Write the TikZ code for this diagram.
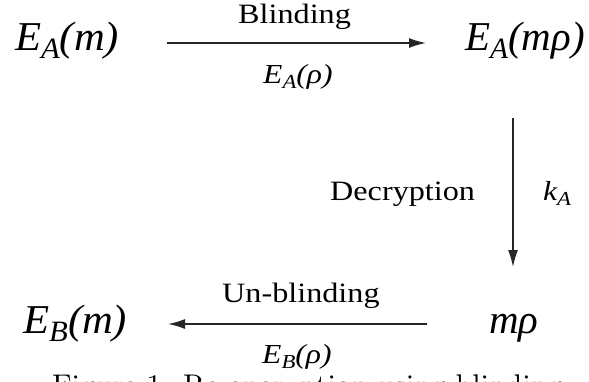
\documentclass[tikz,border=0pt]{standalone}
\usepackage{fontspec}
\newfontfamily\tms{Liberation Serif}
\usetikzlibrary{arrows.meta}
\newcommand\sbx[1]{\raisebox{-0.2em}{\scalebox{0.72}{#1}}}
\newcommand\wid[1]{\scalebox{1.15}[1]{#1}}
\tikzset{
  big/.style={inner sep=0pt, anchor=base west, font=\tms\itshape\fontsize{41}{41}\selectfont},
  lbl/.style={inner sep=0pt, anchor=base west, font=\tms\fontsize{28}{28}\selectfont},
  sml/.style={inner sep=0pt, anchor=base west, font=\tms\itshape\fontsize{27.5}{27.5}\selectfont},
  arr/.style={line width=1.5pt, draw=black!85, -{Latex[length=17pt,width=10pt]}},
}
\begin{document}
\begin{tikzpicture}[x=1pt,y=-1pt]
\fill[white] (0,0) rectangle (589,381);
\useasboundingbox (0,0) rectangle (589,381);
\node[big] (EAm) at (15,50) {\scalebox{1.04}[1]{E\sbx{A}(m)}};
\node[big] (EAmr) at (465,50) {E\sbx{A}(mρ)};
\node[big] (EBm) at (23,333) {\scalebox{1.04}[1]{E\sbx{B}(m)}};
\node[big] (mr) at (489,333) {mρ};
\node[lbl] (blind) at (238,23) {\wid{Blinding}};
\node[sml] (EAr) at (263,83) {\wid{E\sbx{A}(ρ)}};
\node[lbl] (decr) at (330,200) {\wid{Decryption}};
\node[sml] (kA) at (543,200) {\wid{k\sbx{A}}};
\node[lbl] (unbl) at (222,302) {\wid{Un-blinding}};
\node[sml] (EBr) at (262,363) {\wid{E\sbx{B}(ρ)}};
\node[inner sep=0pt, anchor=north west] (cap) at (52,375)
  {\resizebox{510pt}{!}{Figure 1: Re-encryption using blinding}};
\coordinate (a1s) at (167,43);
\coordinate (a1e) at (426,43);
\coordinate (a2s) at (513,118);
\coordinate (a2e) at (513,267);
\coordinate (a3s) at (427,324);
\coordinate (a3e) at (168,324);
\draw[arr] (a1s) -- (a1e);
\draw[arr] (a2s) -- (a2e);
\draw[arr] (a3s) -- (a3e);
\end{tikzpicture}
\end{document}
